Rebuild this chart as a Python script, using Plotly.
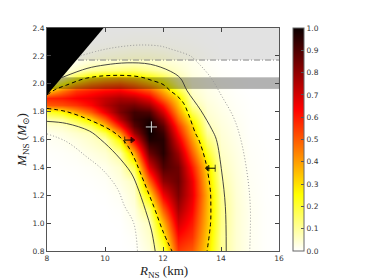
import plotly.graph_objects as go

# ---------------- data ----------------
R_grid = [8.0, 8.5, 9.0, 9.5, 10.0, 10.5, 11.0, 11.5, 12.0, 12.5, 13.0, 13.5, 14.0, 14.5, 15.0, 15.5, 16.0]
M_grid = [0.8, 0.9, 1.0, 1.1, 1.2, 1.3, 1.4, 1.5, 1.6, 1.65, 1.7, 1.75, 1.8, 1.85, 1.9, 1.95,
          2.0, 2.05, 2.1, 2.15, 2.2, 2.25, 2.3, 2.4]
density = [
    [0, 0, 0, 0, 0, 0, 0.002, 0.035, 0.17, 0.55, 0.5, 0.31, 0.11, 0.045, 0.015, 0.004, 0],
    [0, 0, 0, 0, 0, 0, 0.008, 0.05, 0.26, 0.62, 0.56, 0.33, 0.11, 0.045, 0.015, 0.004, 0],
    [0, 0, 0, 0, 0, 0.001, 0.018, 0.065, 0.36, 0.7, 0.6, 0.35, 0.12, 0.045, 0.015, 0.004, 0],
    [0, 0, 0, 0, 0, 0.005, 0.03, 0.14, 0.5, 0.77, 0.64, 0.36, 0.12, 0.045, 0.015, 0.004, 0],
    [0, 0, 0, 0, 0.002, 0.013, 0.045, 0.29, 0.65, 0.83, 0.67, 0.37, 0.11, 0.042, 0.013, 0.003, 0],
    [0, 0, 0.001, 0.003, 0.008, 0.03, 0.065, 0.48, 0.8, 0.86, 0.66, 0.34, 0.09, 0.038, 0.011, 0.003, 0],
    [0, 0.002, 0.004, 0.01, 0.02, 0.05, 0.18, 0.68, 0.9, 0.85, 0.6, 0.31, 0.07, 0.033, 0.009, 0.002, 0],
    [0.003, 0.006, 0.012, 0.028, 0.045, 0.1, 0.38, 0.85, 0.96, 0.78, 0.5, 0.22, 0.055, 0.028, 0.007, 0.002, 0],
    [0.01, 0.016, 0.03, 0.052, 0.08, 0.27, 0.64, 0.97, 0.96, 0.68, 0.41, 0.14, 0.045, 0.022, 0.005, 0.001, 0],
    [0.017, 0.03, 0.05, 0.07, 0.18, 0.42, 0.78, 1.0, 0.93, 0.62, 0.36, 0.1, 0.04, 0.019, 0.004, 0.001, 0],
    [0.045, 0.055, 0.09, 0.17, 0.34, 0.6, 0.88, 1.0, 0.88, 0.56, 0.32, 0.07, 0.035, 0.016, 0.003, 0, 0],
    [0.09, 0.11, 0.2, 0.32, 0.5, 0.75, 0.93, 0.97, 0.8, 0.48, 0.25, 0.055, 0.03, 0.013, 0.003, 0, 0],
    [0.2, 0.26, 0.38, 0.5, 0.66, 0.83, 0.92, 0.9, 0.7, 0.41, 0.17, 0.045, 0.025, 0.01, 0.002, 0, 0],
    [0.5, 0.52, 0.56, 0.63, 0.74, 0.82, 0.84, 0.78, 0.6, 0.35, 0.1, 0.038, 0.02, 0.008, 0.002, 0, 0],
    [0.58, 0.6, 0.64, 0.67, 0.72, 0.76, 0.74, 0.66, 0.48, 0.3, 0.065, 0.03, 0.016, 0.006, 0.001, 0, 0],
    [0.33, 0.46, 0.56, 0.6, 0.63, 0.65, 0.6, 0.53, 0.38, 0.2, 0.05, 0.025, 0.012, 0.004, 0, 0, 0],
    [0.1, 0.24, 0.36, 0.44, 0.48, 0.5, 0.45, 0.37, 0.28, 0.12, 0.04, 0.02, 0.009, 0.003, 0, 0, 0],
    [0.03, 0.07, 0.18, 0.27, 0.31, 0.33, 0.3, 0.24, 0.17, 0.075, 0.032, 0.016, 0.006, 0.002, 0, 0, 0],
    [0.01, 0.025, 0.055, 0.1, 0.12, 0.13, 0.14, 0.11, 0.08, 0.05, 0.025, 0.012, 0.004, 0.001, 0, 0, 0],
    [0, 0.01, 0.025, 0.05, 0.055, 0.06, 0.065, 0.06, 0.05, 0.035, 0.02, 0.008, 0.002, 0, 0, 0, 0],
    [0, 0.003, 0.01, 0.022, 0.03, 0.035, 0.04, 0.04, 0.035, 0.02, 0.014, 0.005, 0.001, 0, 0, 0, 0],
    [0, 0, 0.003, 0.01, 0.014, 0.018, 0.022, 0.022, 0.018, 0.012, 0.008, 0.003, 0, 0, 0, 0, 0],
    [0, 0, 0, 0.003, 0.005, 0.007, 0.01, 0.01, 0.008, 0.006, 0.004, 0.001, 0, 0, 0, 0, 0],
    [0] * 17,
]

# contour lines (68 % dashed, 95 % solid, 99 % dotted)
c68_R = [8.0, 8.67, 9.47, 10.28, 10.73, 11.0, 11.22, 11.68, 12.02, 12.31, None,
         8.0, 8.3, 8.67, 9.36, 10.28, 11.19, 11.6, 12.0, 12.25, 12.5, 12.71, 12.9, 13.12, 13.23, 13.46, 13.63, 13.65, 13.64, 13.52]
c68_M = [1.823, 1.80, 1.74, 1.656, 1.57, 1.47, 1.36, 1.12, 0.93, 0.80, None,
         1.92, 1.96, 1.99, 2.04, 2.06, 2.05, 2.025, 1.995, 1.95, 1.91, 1.86, 1.77, 1.644, 1.60, 1.45, 1.24, 1.12, 1.0, 0.80]
c95_R = [8.0, 8.67, 9.47, 9.85, 10.4, 10.9, 11.1, 11.4, 11.6, 11.73, None,
         8.52, 9.38, 10.0, 10.76, 11.56, 12.25, 12.6, 12.83, 13.3, 13.69, 13.84, 14.03, 14.15, 14.18]
c95_M = [1.73, 1.715, 1.66, 1.60, 1.49, 1.36, 1.27, 1.09, 0.95, 0.80, None,
         2.045, 2.11, 2.135, 2.15, 2.14, 2.09, 2.04, 1.95, 1.81, 1.67, 1.60, 1.36, 1.12, 0.80]
c99_R = [8.0, 8.67, 9.36, 9.93, 10.42, 10.68, 10.99, 11.12, None,
         9.15, 9.84, 10.5, 11.22, 11.91, 12.25, 12.94, 13.11, 13.63, 14.03, 14.43, 14.67, 14.9, 15.01, 14.99]
c99_M = [1.64, 1.585, 1.477, 1.38, 1.25, 1.12, 1.0, 0.80, None,
         2.2, 2.24, 2.265, 2.278, 2.27, 2.25, 2.20, 2.17, 2.05, 1.91, 1.76, 1.61, 1.36, 1.12, 0.80]

# constraints
causality_R = [8.0, 9.95]
causality_M = [1.92, 2.4]
light_band_M = [2.17, 2.4]
dark_band_M = [1.965, 2.045]
dashdot_R = [9.07, 16.0]
peak_R, peak_M = [11.6], [1.69]
limit_low_R = [10.68, 10.94]
limit_low_M = [1.596, 1.596]
limit_up_R = [13.8, 13.54]
limit_up_M = [1.394, 1.394]

x_range = [8, 16]
y_range = [0.8, 2.4]
cbar_ticks = [0.0, 0.1, 0.2, 0.3, 0.4, 0.5, 0.6, 0.7, 0.8, 0.9, 1.0]

hot_r = [[0, 'rgb(255,255,255)'], [0.253968, 'rgb(255,255,0)'],
         [0.634921, 'rgb(255,0,0)'], [1, 'rgb(11,0,0)']]

fig = go.Figure()
fig.add_trace(go.Heatmap(
    x=R_grid, y=M_grid, z=density, zmin=0, zmax=1, zsmooth='best',
    colorscale=hot_r, hoverinfo='skip',
    colorbar=dict(x=1.06, xanchor='left', xpad=0, ypad=0, y=0.5, yanchor='middle',
                  len=1.0, lenmode='fraction', thickness=11, thicknessmode='pixels',
                  outlinecolor='#666', outlinewidth=1,
                  tickvals=cbar_ticks, ticktext=['%.1f' % t for t in cbar_ticks],
                  ticks='inside', ticklen=3, tickcolor='#555',
                  tickfont=dict(family='DejaVu Sans', size=7.5, color='#333'))))

# bands
fig.add_trace(go.Scatter(x=[x_range[0], x_range[1], x_range[1], x_range[0], x_range[0]],
                         y=[light_band_M[0], light_band_M[0], light_band_M[1], light_band_M[1], light_band_M[0]],
                         fill='toself', fillcolor='rgba(0,0,0,0.115)', mode='none', hoverinfo='skip'))
fig.add_trace(go.Scatter(x=[x_range[0], x_range[1], x_range[1], x_range[0], x_range[0]],
                         y=[dark_band_M[0], dark_band_M[0], dark_band_M[1], dark_band_M[1], dark_band_M[0]],
                         fill='toself', fillcolor='rgba(0,0,0,0.3)', mode='lines',
                         line=dict(color='rgba(0,0,0,0.12)', width=0.6), hoverinfo='skip'))
# causality triangle
fig.add_trace(go.Scatter(x=[causality_R[0], causality_R[1], causality_R[0], causality_R[0]],
                         y=[causality_M[0], causality_M[1], causality_M[1], causality_M[0]],
                         fill='toself', fillcolor='black', mode='none', hoverinfo='skip'))
# dash-dot line
fig.add_trace(go.Scatter(x=dashdot_R, y=[light_band_M[0]] * 2, mode='lines',
                         line=dict(color='#888', width=1, dash='6px,2px,1px,2px'), hoverinfo='skip'))
# contours
fig.add_trace(go.Scatter(x=c99_R, y=c99_M, mode='lines', line=dict(color='#999', width=1, dash='1px,2px'),
                         line_shape='spline', hoverinfo='skip'))
fig.add_trace(go.Scatter(x=c95_R, y=c95_M, mode='lines', line=dict(color='#333', width=0.9),
                         line_shape='spline', hoverinfo='skip'))
fig.add_trace(go.Scatter(x=c68_R, y=c68_M, mode='lines', line=dict(color='black', width=1, dash='4px,3px'),
                         line_shape='spline', hoverinfo='skip'))
# peak marker
fig.add_trace(go.Scatter(x=peak_R, y=peak_M, mode='markers',
                         marker=dict(symbol='cross-thin', size=8, line=dict(color='rgb(215,215,215)', width=1)),
                         hoverinfo='skip'))
# limit arrows
fig.add_trace(go.Scatter(x=limit_low_R, y=limit_low_M, mode='lines+markers',
                         line=dict(color='black', width=1),
                         marker=dict(symbol=['line-ns', 'triangle-right'], size=[5, 5], color='black',
                                     line=dict(color='black', width=1)), hoverinfo='skip'))
fig.add_trace(go.Scatter(x=limit_up_R, y=limit_up_M, mode='lines+markers',
                         line=dict(color='black', width=1),
                         marker=dict(symbol=['line-ns', 'triangle-left'], size=[5, 5], color='black',
                                     line=dict(color='black', width=1)), hoverinfo='skip'))

axis_common = dict(showgrid=False, zeroline=False, ticks='inside', ticklen=4, tickcolor='#444',
                   mirror='allticks', showline=True, linecolor='#555', linewidth=1,
                   tickfont=dict(family='DejaVu Sans', size=7.5, color='#333'))
fig.update_xaxes(range=x_range, tickvals=[8, 10, 12, 14, 16], **axis_common)
fig.update_yaxes(range=y_range, tickvals=[0.8, 1.0, 1.2, 1.4, 1.6, 1.8, 2.0, 2.2, 2.4],
                 ticktext=['0.8', '1.0', '1.2', '1.4', '1.6', '1.8', '2.0', '2.2', '2.4'], **axis_common)

# the page body adds an 8px offset, so the figure is 8px smaller and margins 8px tighter
title_font = dict(family='Liberation Serif, DejaVu Serif, serif', size=13, color='#222')
fig.update_layout(
    width=366, height=272, margin=dict(l=39, r=95, t=20, b=29, autoexpand=False),
    paper_bgcolor='white', plot_bgcolor='white', showlegend=False,
    annotations=[
        dict(text='<i>R</i><sub>NS</sub> (km)', x=0.5, y=-0.093, xref='paper', yref='paper',
             xanchor='center', yanchor='middle', showarrow=False, font=title_font),
        dict(text='<i>M</i><sub>NS</sub> (<i>M</i><sub>⊙</sub>)', x=-0.106, y=0.5, xref='paper', yref='paper',
             xanchor='center', yanchor='middle', textangle=-90, showarrow=False, font=title_font),
    ])

fig.write_html('out.html')
